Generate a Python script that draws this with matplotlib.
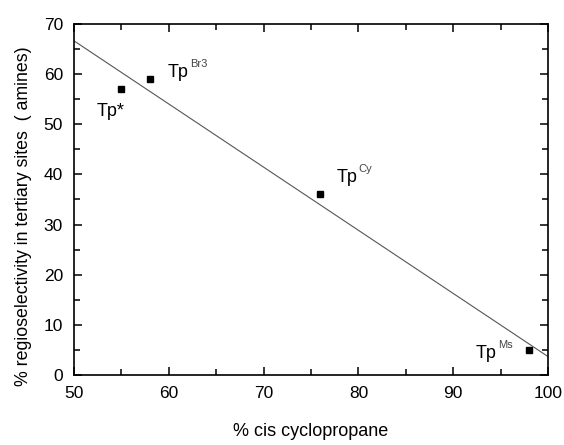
import numpy as np
import matplotlib.pyplot as plt
from matplotlib.ticker import MultipleLocator

plt.rcParams['font.family'] = ['Liberation Sans', 'DejaVu Sans']

# data
cis_pct = [55, 58, 76, 98]
regio_pct = [57, 59, 36, 5]
names = ['Tp*', 'Tp', 'Tp', 'Tp']
sups = ['', 'Br3', 'Cy', 'Ms']
label_pos = [(52.4, 51.6), (59.9, 59.4), (77.7, 38.5), (92.4, 3.4)]

fig = plt.figure(figsize=(5.64, 4.45), dpi=100)
ax = fig.add_axes([0.1312, 0.1573, 0.8404, 0.7888])

ax.plot(cis_pct, regio_pct, 's', color='black', markersize=5)

# linear fit through the points
slope, icpt = np.polyfit(cis_pct, regio_pct, 1)
xx = np.array([50, 100])
ax.plot(xx, slope * xx + icpt, color='#555555', lw=0.8)

for nm, sp, (lx, ly) in zip(names, sups, label_pos):
    ax.text(lx, ly, nm, fontsize=13, va='baseline', ha='left')
    if sp:
        ax.annotate(sp, (lx, ly), xytext=(22, 10), textcoords='offset pixels',
                    fontsize=8, color='#444444', va='baseline', ha='left')

ax.set_xlim(50, 100)
ax.set_ylim(0, 70)
ax.xaxis.set_major_locator(MultipleLocator(10))
ax.xaxis.set_minor_locator(MultipleLocator(5))
ax.yaxis.set_major_locator(MultipleLocator(10))
ax.yaxis.set_minor_locator(MultipleLocator(5))
ax.tick_params(which='both', direction='in', top=True, right=True, labelsize=12.5, width=1.1, pad=8)
ax.tick_params(which='major', length=6)
ax.tick_params(which='minor', length=4)
for s in ax.spines.values():
    s.set_linewidth(1.2)

ax.set_xlabel('% cis cyclopropane', fontsize=13, labelpad=16)
ax.set_ylabel('% regioselectivity in tertiary sites  ( amines)', fontsize=12.8, labelpad=8, y=0.453)

fig.savefig('out.png', dpi=100)
